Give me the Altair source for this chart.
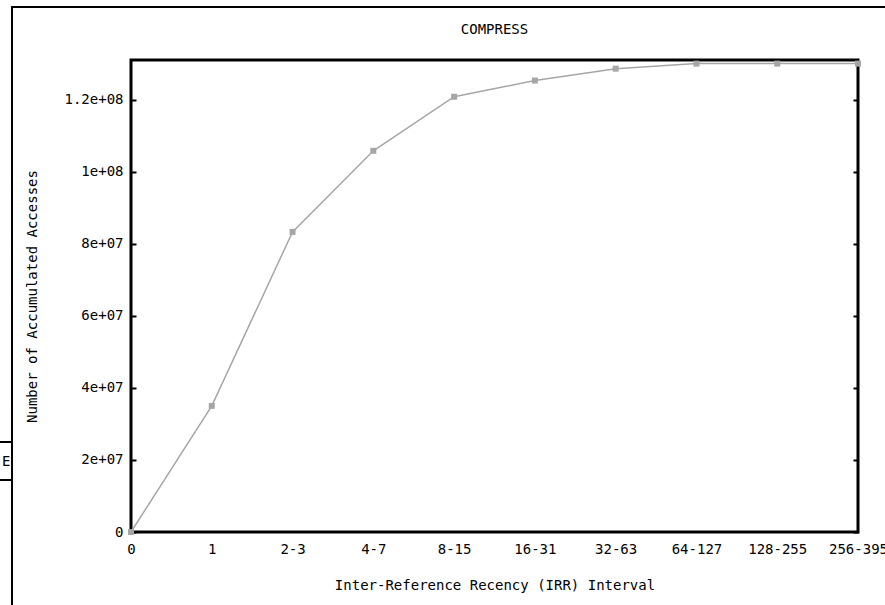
import altair as alt
import pandas as pd

categories = ["0", "1", "2-3", "4-7", "8-15", "16-31", "32-63", "64-127", "128-255", "256-395"]
accesses = [0, 3.5e7, 8.33e7, 1.058e8, 1.208e8, 1.253e8, 1.286e8, 1.30e8, 1.30e8, 1.30e8]
y_ticks = [0, 2e7, 4e7, 6e7, 8e7, 1e8, 1.2e8]

df = pd.DataFrame({"interval": categories, "accesses": accesses})
FONT = "DejaVu Sans Mono"
GRAY = "#a6a6a6"

x_enc = alt.X("interval:O", sort=categories,
              scale=alt.Scale(type="point", padding=0),
              axis=alt.Axis(title="Inter-Reference Recency (IRR) Interval", labelAngle=0,
                            ticks=False, tickSize=0, domain=False, labelPadding=10,
                            titlePadding=22, labelFont=FONT, titleFont=FONT,
                            labelFontSize=14, titleFontSize=14, titleFontWeight="normal",
                            labelColor="black", titleColor="black"))
y_scale = alt.Scale(domain=[0, 1.31e8], nice=False, zero=True)
y_enc = alt.Y("accesses:Q", scale=y_scale,
              axis=alt.Axis(title="Number of Accumulated Accesses", values=y_ticks,
                            labelExpr="datum.value == 0 ? '0' : replace(format(datum.value, '.2~e'), 'e+', 'e+0')",
                            offset=-5, tickSize=5, tickWidth=2, tickColor="black",
                            domain=False, grid=False, labelPadding=8, titlePadding=24,
                            labelFont=FONT, titleFont=FONT, labelFontSize=14, titleFontSize=14,
                            titleFontWeight="normal", labelColor="black", titleColor="black"))

base = alt.Chart(df)
line = base.mark_line(color=GRAY, strokeWidth=1.5).encode(x=x_enc, y=y_enc)
pts = base.mark_point(shape="square", filled=True, size=36, color=GRAY, opacity=1).encode(x=x_enc, y=y_enc)
series = alt.layer(line, pts)

right_ticks = base.mark_point(opacity=0).encode(
    x=x_enc,
    y=alt.Y("accesses:Q", scale=y_scale,
            axis=alt.Axis(orient="right", values=y_ticks, labels=False, title=None,
                          offset=-5, tickSize=5, tickWidth=2, tickColor="black",
                          domain=False, grid=False)))

data_layers = alt.layer(series, right_ticks).resolve_scale(y="independent")

one = pd.DataFrame({"k": [0]})
title_text = alt.Chart(one).mark_text(text="COMPRESS", font=FONT, fontSize=14, align="center",
                                      baseline="middle", color="black").encode(
    x=alt.value(363.5), y=alt.value(-30))
es_text = alt.Chart(one).mark_text(text="ES", font=FONT, fontSize=14, align="left",
                                   baseline="middle", color="black").encode(
    x=alt.value(-129), y=alt.value(402))
es_mask = alt.Chart(one).mark_rect(color="white").encode(
    x=alt.value(-118), x2=alt.value(-108), y=alt.value(390), y2=alt.value(414))
frame_v = alt.Chart(one).mark_rule(color="black", strokeWidth=2).encode(
    x=alt.value(-119), y=alt.value(-54), y2=alt.value(545))
frame_h = alt.Chart(one).mark_rule(color="black", strokeWidth=2).encode(
    x=alt.value(-119), x2=alt.value(754), y=alt.value(-53))
box_top = alt.Chart(one).mark_rule(color="black", strokeWidth=2).encode(
    x=alt.value(-131), x2=alt.value(-119), y=alt.value(382))
box_bot = alt.Chart(one).mark_rule(color="black", strokeWidth=2).encode(
    x=alt.value(-131), x2=alt.value(-119), y=alt.value(420))

chart = alt.layer(
    data_layers, title_text, es_text, es_mask, frame_v, frame_h, box_top, box_bot
).properties(
    width=727, height=472,
    autosize=alt.AutoSizeParams(type="none"),
    padding={"left": 131, "top": 60, "right": 27, "bottom": 73},
).configure(background="white").configure_view(stroke="black", strokeWidth=3)

chart.save("out.html", embed_options={"renderer": "svg", "actions": False})
